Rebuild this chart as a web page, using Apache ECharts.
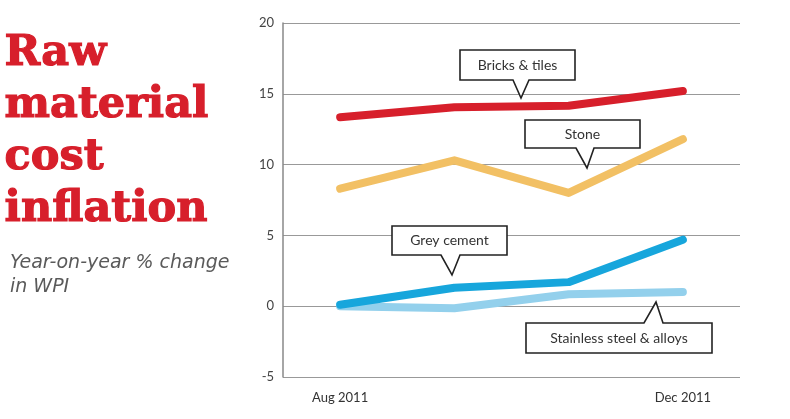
<!DOCTYPE html>
<html>
<head>
<meta charset="utf-8">
<script src="https://cdn.jsdelivr.net/npm/echarts@6/dist/echarts.min.js"></script>
<style>
html,body{margin:0;padding:0;background:#fff;}
#chart{width:790px;height:419px;}
</style>
</head>
<body>
<div id="chart"></div>
<script>
var months = ['Aug 2011', 'Sep 2011', 'Oct 2011', 'Dec 2011'];
var bricksTiles = [13.35, 14.05, 14.15, 15.2];
var stone = [8.3, 10.3, 8.0, 11.8];
var greyCement = [0.1, 1.3, 1.7, 4.7];
var stainlessSteel = [0.0, -0.15, 0.85, 1.0];
var yTicks = [-5, 0, 5, 10, 15, 20];

var chart = echarts.init(document.getElementById('chart'), null, {renderer: 'canvas'});

function callout(x0, y0, x1, y1, baseL, baseR, tipX, tipY, up, label) {
  var pts;
  if (!up) {
    pts = [[x0,y0],[x1,y0],[x1,y1],[baseR,y1],[tipX,tipY],[baseL,y1],[x0,y1]];
  } else {
    pts = [[x0,y0],[baseL,y0],[tipX,tipY],[baseR,y0],[x1,y0],[x1,y1],[x0,y1]];
  }
  return [
    {type:'polygon', shape:{points:pts}, style:{fill:'#fff', stroke:'#222', lineWidth:1.6}, z:100},
    {type:'text', x:(x0+x1)/2, y:(y0+y1)/2, z:101,
     style:{text:label, font:'14px Lato', fill:'#333', align:'center', verticalAlign:'middle'}}
  ];
}

var graphics = [];
graphics = graphics.concat(callout(460, 50, 575, 80, 513, 529, 521, 98, false, 'Bricks & tiles'));
graphics = graphics.concat(callout(525, 120, 640, 148, 576, 594, 587, 168, false, 'Stone'));
graphics = graphics.concat(callout(392, 226, 507, 255, 441, 460, 452, 275, false, 'Grey cement'));
graphics = graphics.concat(callout(526, 323, 712, 353, 644, 663, 656, 302, true, 'Stainless steel & alloys'));

graphics.push({type:'text', left:4, top:28, z:100,
  style:{text:'Raw\nmaterial\ncost\ninflation', font:'bold 43px "DejaVu Serif"', fill:'#d71f2b',
         stroke:'#d71f2b', lineWidth:1.2, lineHeight:52}});
graphics.push({type:'text', left:10, top:251, z:100,
  style:{text:'Year-on-year % change\nin WPI', font:'italic 19px "DejaVu Sans"', fill:'#5a5a5a', lineHeight:24}});

function line(name, data, color, w) {
  return {
    name: name, type: 'line', data: data, symbol: 'none', smooth: false,
    lineStyle: {color: color, width: w, cap: 'round', join: 'round'},
    itemStyle: {color: color}, silent: true, animation: false
  };
}

chart.setOption({
  animation: false,
  grid: {left: 283, right: 50, top: 23, bottom: 42, containLabel: false},
  xAxis: {
    type: 'category', data: months, boundaryGap: true,
    axisLine: {show: false}, axisTick: {show: false},
    axisLabel: {
      color: '#333', fontSize: 13, fontFamily: 'Lato', margin: 14,
      formatter: function (v, i) { return (i === 0 || i === months.length - 1) ? v : ''; }
    },
    splitLine: {show: false}
  },
  yAxis: {
    type: 'value', min: yTicks[0], max: yTicks[yTicks.length - 1], interval: 5,
    axisLine: {show: true, lineStyle: {color: '#888', width: 1.5}},
    axisTick: {show: false},
    axisLabel: {color: '#444', fontSize: 13, fontFamily: 'Lato', margin: 9},
    splitLine: {show: true, lineStyle: {color: '#999', width: 1.2}}
  },
  series: [
    line('Stainless steel & alloys', stainlessSteel, '#93d0ec', 8),
    line('Grey cement', greyCement, '#17a6dc', 8),
    line('Stone', stone, '#f2c064', 8),
    line('Bricks & tiles', bricksTiles, '#d71f2b', 8)
  ],
  graphic: graphics
});
</script>
</body>
</html>
